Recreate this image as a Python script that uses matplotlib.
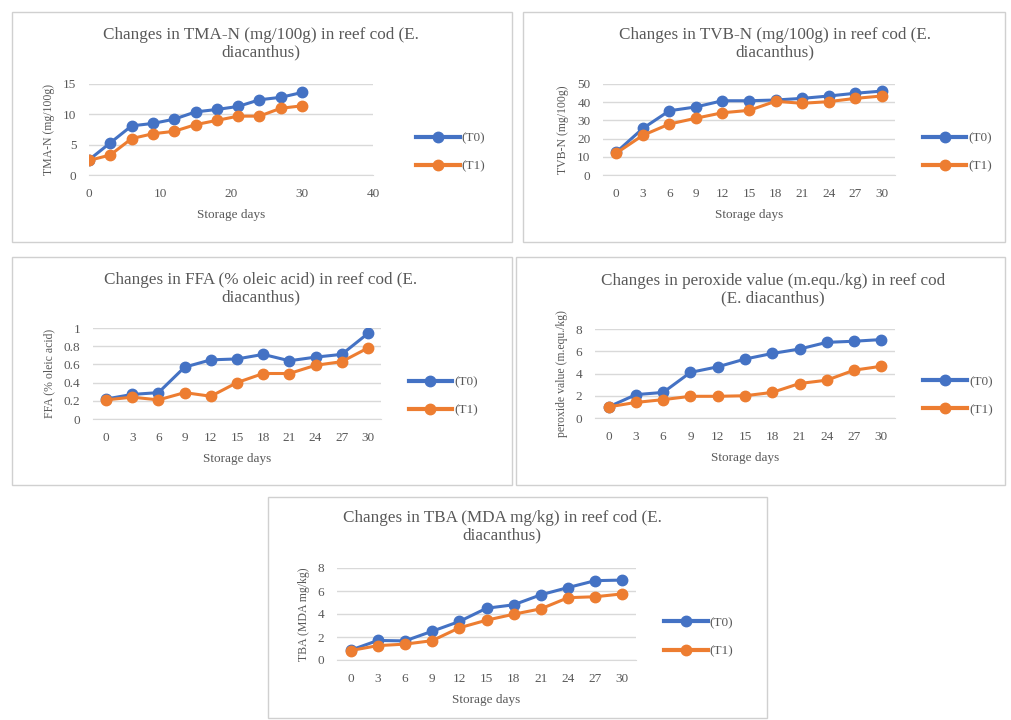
import matplotlib
matplotlib.use('Agg')
import matplotlib.pyplot as plt
from matplotlib.patches import Rectangle

# storage days
days = [0, 3, 6, 9, 12, 15, 18, 21, 24, 27, 30]

# TMA-N (mg/100g)
tma_t0 = [2.5, 5.3, 8.1, 8.5, 9.2, 10.4, 10.8, 11.3, 12.4, 12.8, 13.6]
tma_t1 = [2.4, 3.3, 6.0, 6.8, 7.2, 8.3, 9.0, 9.7, 9.7, 11.0, 11.4]

# TVB-N (mg/100g)
tvb_t0 = [12.5, 25.6, 35.3, 37.4, 40.8, 40.8, 41.2, 42.1, 43.4, 44.9, 46.1]
tvb_t1 = [12.0, 21.8, 28.0, 31.2, 34.2, 35.5, 40.5, 39.4, 40.3, 42.1, 43.4]

# FFA (% oleic acid)
ffa_t0 = [0.22, 0.27, 0.29, 0.57, 0.65, 0.66, 0.71, 0.64, 0.68, 0.71, 0.94]
ffa_t1 = [0.21, 0.24, 0.21, 0.29, 0.25, 0.40, 0.50, 0.50, 0.59, 0.63, 0.78]

# peroxide value (m.equ./kg)
pv_t0 = [1.0, 2.1, 2.3, 4.1, 4.6, 5.3, 5.8, 6.2, 6.8, 6.9, 7.05]
pv_t1 = [1.0, 1.4, 1.65, 1.95, 1.95, 2.0, 2.3, 3.1, 3.4, 4.3, 4.65]

# TBA (MDA mg/kg)
tba_t0 = [0.85, 1.7, 1.66, 2.5, 3.35, 4.5, 4.8, 5.67, 6.3, 6.9, 6.95]
tba_t1 = [0.82, 1.25, 1.38, 1.68, 2.8, 3.46, 3.98, 4.45, 5.42, 5.5, 5.75]

BLUE = '#4472C4'
ORANGE = '#ED7D31'
TXT = '#595959'
GRID = '#D9D9D9'

plt.rcParams['font.family'] = ['Liberation Serif', 'DejaVu Serif']

W, H = 1011, 720
fig = plt.figure(figsize=(W / 100, H / 100), dpi=100)
fig.patch.set_facecolor('white')


def fx(px):
    return px / W


def fy(py):
    return 1 - py / H


def panel(box, axrect, title, title_xy, ylabel, t0, t1, yticks, ylabels,
          numeric_x=False, legend_xy=(1.055, 0.25)):
    # outer frame of the chart
    x0, y0, x1, y1 = box
    fig.add_artist(Rectangle((fx(x0), fy(y1)), fx(x1 - x0), (y1 - y0) / H,
                             transform=fig.transFigure, fill=False,
                             edgecolor='#D0D0D0', linewidth=1.0))
    l, t, r, b = axrect
    ax = fig.add_axes([fx(l), fy(b), fx(r - l), (b - t) / H])
    lw = 2.2
    ax.plot(days, t0, color=BLUE, marker='o', markersize=7.5, linewidth=lw,
            label='(T0)', zorder=3)
    ax.plot(days, t1, color=ORANGE, marker='o', markersize=7.5, linewidth=lw,
            label='(T1)', zorder=4)
    if numeric_x:
        ax.set_xlim(0, 40)
        ax.set_xticks([0, 10, 20, 30, 40])
    else:
        ax.set_xlim(-1.5, 31.5)
        ax.set_xticks(days)
    ax.set_ylim(yticks[0], yticks[-1])
    ax.set_yticks(yticks)
    ax.set_yticklabels(ylabels)
    ax.yaxis.grid(True, color=GRID, linewidth=1.0)
    ax.set_axisbelow(True)
    for s in ('top', 'right', 'left'):
        ax.spines[s].set_visible(False)
    ax.spines['bottom'].set_color(GRID)
    ax.spines['bottom'].set_zorder(1)
    ax.tick_params(axis='y', length=0, labelsize=9.5, colors=TXT, pad=9)
    ax.tick_params(axis='x', length=0, labelsize=9.5, colors=TXT, pad=9.5)
    ax.set_xlabel('Storage days', fontsize=9.5, color=TXT, labelpad=6)
    ax.set_ylabel(ylabel, fontsize=8.5, color=TXT, labelpad=6)
    fig.text(fx(title_xy[0]), fy(title_xy[1]), title, ha='center', va='center',
             fontsize=12.3, color=TXT, linespacing=1.12)
    leg = ax.legend(loc='center left', bbox_to_anchor=legend_xy, frameon=False,
                    handlelength=3.3, labelspacing=1.2, fontsize=9.5,
                    handletextpad=0.15)
    for txt in leg.get_texts():
        txt.set_color(TXT)
    for ln in leg.get_lines():
        ln.set_linewidth(3)
    return ax


panel((12, 12, 512, 242), (89, 84, 373, 175),
      'Changes in TMA-N (mg/100g) in reef cod (E.\ndiacanthus)', (261, 44),
      'TMA-N (mg/100g)', tma_t0, tma_t1, [0, 5, 10, 15],
      ['0', '5', '10', '15'], numeric_x=True, legend_xy=(1.11, 0.25))

panel((523, 12, 1005, 242), (603, 84, 895, 175),
      'Changes in TVB-N (mg/100g) in reef cod (E.\ndiacanthus)', (775, 44),
      'TVB-N (mg/100g)', tvb_t0, tvb_t1, [0, 10, 20, 30, 40, 50],
      ['0', '10', '20', '30', '40', '50'])

panel((12, 257, 512, 485), (93, 328, 381, 419),
      'Changes in FFA (% oleic acid) in reef cod (E.\ndiacanthus)', (261, 289),
      'FFA (% oleic acid)', ffa_t0, ffa_t1, [0, 0.2, 0.4, 0.6, 0.8, 1.0],
      ['0', '0.2', '0.4', '0.6', '0.8', '1'])

panel((516, 257, 1005, 485), (595, 329, 895, 418),
      'Changes in peroxide value (m.equ./kg) in reef cod\n(E. diacanthus)', (773, 290),
      'peroxide value (m.equ./kg)', pv_t0, pv_t1, [0, 2, 4, 6, 8],
      ['0', '2', '4', '6', '8'])

panel((268, 497, 767, 718), (337, 568, 636, 660),
      'Changes in TBA (MDA mg/kg) in reef cod (E.\ndiacanthus)', (502, 527),
      'TBA (MDA mg/kg)', tba_t0, tba_t1, [0, 2, 4, 6, 8],
      ['0', '2', '4', '6', '8'])

fig.savefig('out.png', dpi=100, facecolor='white')
